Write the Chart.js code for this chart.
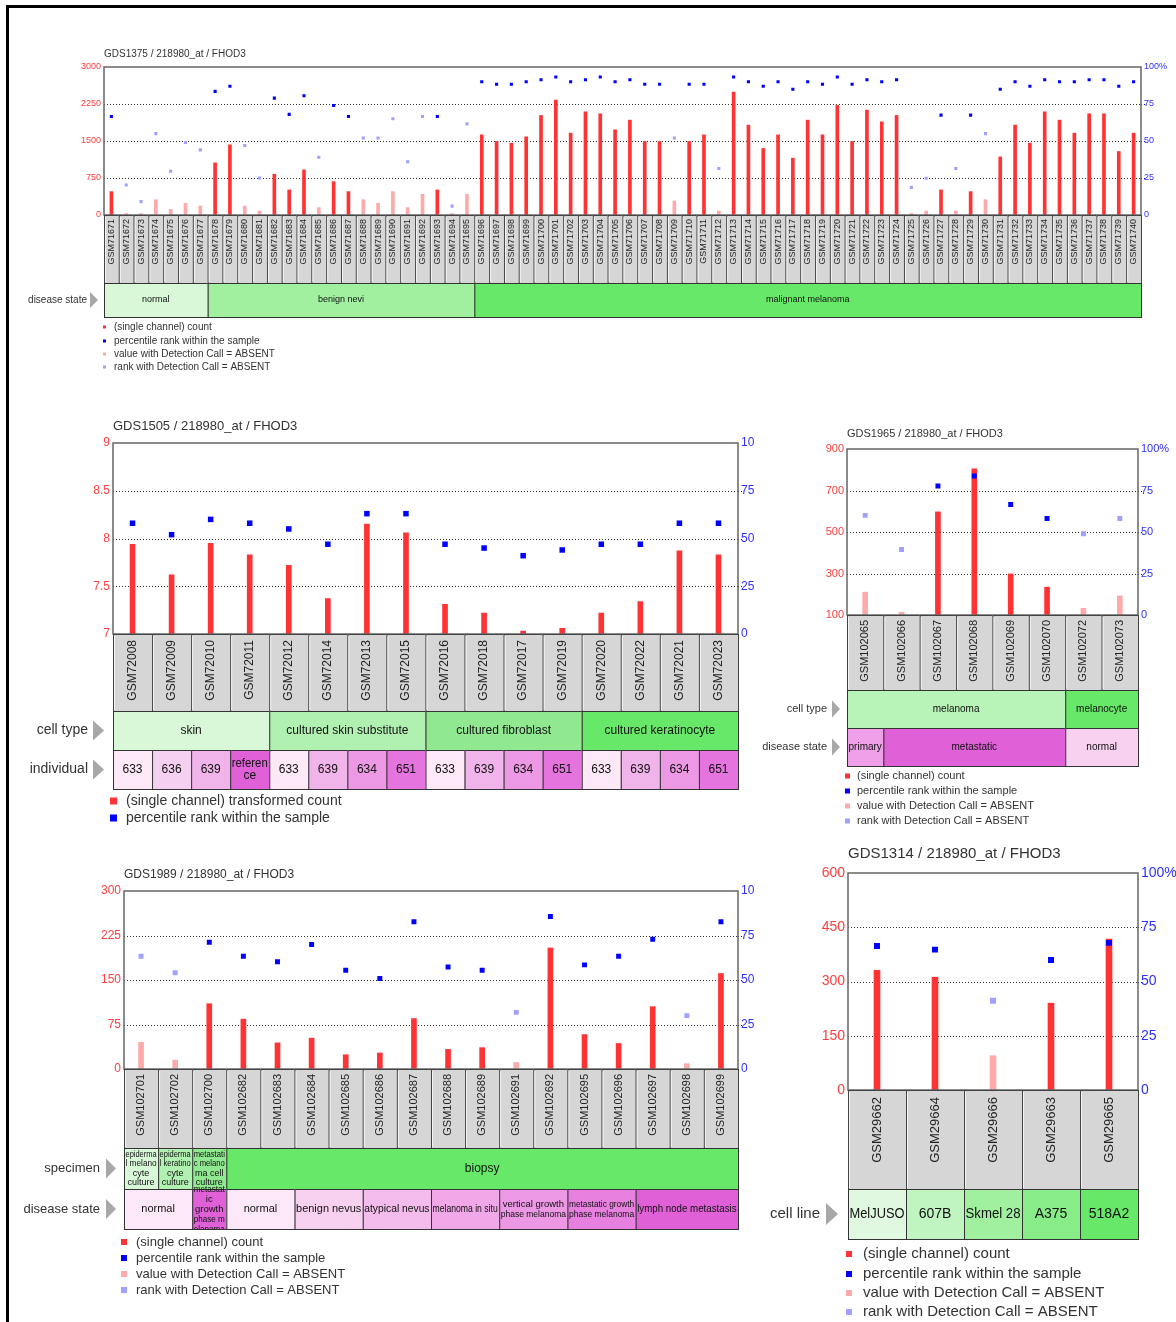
<!DOCTYPE html>
<html>
<head>
<meta charset="utf-8">
<script src="https://cdn.jsdelivr.net/npm/chart.js@4.4.0/dist/chart.umd.min.js"></script>
<style>
body{margin:0;background:#fff;width:1176px;height:1322px;position:relative;overflow:hidden}
.frame{position:absolute;left:6px;top:5px;width:1170px;height:1317px;border-left:3px solid #000;border-top:3px solid #000}
canvas{position:absolute}
</style>
</head>
<body>
<div class="frame"></div>
<script>
// ---- GDS1375 ----
const gds1375Samples = ['GSM71671','GSM71672','GSM71673','GSM71674','GSM71675','GSM71676','GSM71677','GSM71678','GSM71679','GSM71680',
  'GSM71681','GSM71682','GSM71683','GSM71684','GSM71685','GSM71686','GSM71687','GSM71688','GSM71689','GSM71690',
  'GSM71691','GSM71692','GSM71693','GSM71694','GSM71695','GSM71696','GSM71697','GSM71698','GSM71699','GSM71700',
  'GSM71701','GSM71702','GSM71703','GSM71704','GSM71705','GSM71706','GSM71707','GSM71708','GSM71709','GSM71710',
  'GSM71711','GSM71712','GSM71713','GSM71714','GSM71715','GSM71716','GSM71717','GSM71718','GSM71719','GSM71720',
  'GSM71721','GSM71722','GSM71723','GSM71724','GSM71725','GSM71726','GSM71727','GSM71728','GSM71729','GSM71730',
  'GSM71731','GSM71732','GSM71733','GSM71734','GSM71735','GSM71736','GSM71737','GSM71738','GSM71739','GSM71740'];
const gds1375Counts = [474,30,30,311,115,237,183,1056,1422,183,81,826,508,914,149,677,474,311,237,474,149,420,508,30,420,
  1625,1490,1456,1585,2018,2330,1659,2092,2052,1727,1923,1490,1490,284,1490,1625,81,2492,1822,1348,1625,1151,1923,1625,2221,
  1490,2126,1889,2018,30,81,508,81,474,311,1178,1822,1456,2092,1923,1659,2052,2052,1287,1659];
const gds1375Ranks = [66.6,20.3,9,55,29.6,49,44,83.5,87,47,25,79,68,80.6,39,74,66.6,52,52,65,36,66.6,66.6,6,61.6,
  90,88.3,88.3,90,91.4,93.2,90,91.4,93.2,90,91.4,88.3,88.3,52,88.3,88.3,31.4,93.2,90,87,90,85,90,88.3,93.2,
  88.3,91.4,90,91.4,18.7,24.8,67.5,31.4,67.5,55,85,90,87,91.4,90,90,91.4,91.4,87,90];
const gds1375Calls = ['P','A','A','A','A','A','A','P','P','A','A','P','P','P','A','P','P','A','A','A','A','A','P','A','A',
  'P','P','P','P','P','P','P','P','P','P','P','P','P','A','P','P','A','P','P','P','P','P','P','P','P',
  'P','P','P','P','A','A','P','A','P','A','P','P','P','P','P','P','P','P','P','P'];
const gds1375Disease = ['normal','benign nevi','malignant melanoma'];
const gds1375DiseaseSpan = [7,18,45];
const gds1375YTicks = [0,750,1500,2250,3000];

// ---- GDS1505 ----
const gds1505Samples = ['GSM72008','GSM72009','GSM72010','GSM72011','GSM72012','GSM72014','GSM72013','GSM72015',
  'GSM72016','GSM72018','GSM72017','GSM72019','GSM72020','GSM72022','GSM72021','GSM72023'];
const gds1505Values = [7.94,7.62,7.95,7.83,7.72,7.37,8.15,8.06,7.31,7.22,7.03,7.06,7.22,7.34,7.87,7.83];
const gds1505Ranks = [58,52,60,58,55,47,63,63,47,45,41,44,47,47,58,58];
const gds1505Calls = ['P','P','P','P','P','P','P','P','P','P','P','P','P','P','P','P'];
const gds1505CellType = ['skin','cultured skin substitute','cultured fibroblast','cultured keratinocyte'];
const gds1505CellTypeSpan = [4,4,4,4];
const gds1505Individual = ['633','636','639','reference','633','639','634','651','633','639','634','651','633','639','634','651'];
const gds1505YTicks = [7,7.5,8,8.5,9];

// ---- GDS1965 ----
const gds1965Samples = ['GSM102065','GSM102066','GSM102067','GSM102068','GSM102069','GSM102070','GSM102072','GSM102073'];
const gds1965Counts = [210,113,597,805,298,234,132,192];
const gds1965Ranks = [60,39.4,77.7,83.7,66.6,58.1,49,58.1];
const gds1965Calls = ['A','A','P','P','P','P','A','A'];
const gds1965CellType = ['melanoma','melanocyte'];
const gds1965CellTypeSpan = [6,2];
const gds1965Disease = ['primary','metastatic','normal'];
const gds1965DiseaseSpan = [1,5,2];
const gds1965YTicks = [100,300,500,700,900];

// ---- GDS1989 ----
const gds1989Samples = ['GSM102701','GSM102702','GSM102700','GSM102682','GSM102683','GSM102684','GSM102685','GSM102686','GSM102687',
  'GSM102688','GSM102689','GSM102691','GSM102692','GSM102695','GSM102696','GSM102697','GSM102698','GSM102699'];
const gds1989Counts = [45,15,110,84,44,52,24,27,85,33,36,11,204,58,43,105,9,161];
const gds1989Ranks = [63.3,54.1,71.2,63.3,60.3,69.9,55.5,50.8,82.7,57.3,55.5,31.8,85.7,58.5,63.3,72.9,30,82.7];
const gds1989Calls = ['A','A','P','P','P','P','P','P','P','P','P','A','P','P','P','P','A','P'];
const gds1989Specimen = ['epidermal melanocyte culture','epidermal keratinocyte culture','metastatic melanoma cell culture','biopsy'];
const gds1989SpecimenSpan = [1,1,1,15];
const gds1989Disease = ['normal','metastatic growth phase melanoma','normal','benign nevus','atypical nevus','melanoma in situ',
  'vertical growth phase melanoma','metastatic growth phase melanoma','lymph node metastasis'];
const gds1989DiseaseSpan = [2,1,2,2,2,2,2,2,3];
const gds1989YTicks = [0,75,150,225,300];

// ---- GDS1314 ----
const gds1314Samples = ['GSM29662','GSM29664','GSM29666','GSM29663','GSM29665'];
const gds1314Counts = [331,312,95,240,417];
const gds1314Ranks = [66.4,64.7,41.1,59.9,67.8];
const gds1314Calls = ['P','P','A','P','P'];
const gds1314CellLine = ['MelJUSO','607B','Skmel 28','A375','518A2'];
const gds1314CellLineSpan = [1,1,1,1,1];
const gds1314YTicks = [0,150,300,450,600];

const rankTicks = [0,25,50,75,100];
const legend4 = ['(single channel) count','percentile rank within the sample','value with Detection Call = ABSENT','rank with Detection Call = ABSENT'];

const RED = '#ff3333', PINK = '#ffaaaa', BLUE = '#0000ff', LBLUE = '#a0a0ff';
const F = s => s + 'px "Liberation Sans", Arial, sans-serif';

function wrapWords(ctx, text, maxW) {
  const lines = [];
  let line = '';
  const fits = s => ctx.measureText(s).width <= maxW;
  text.split(' ').forEach(word => {
    const cand = line ? line + ' ' + word : word;
    if (fits(cand)) { line = cand; return; }
    if (fits(word)) { if (line) lines.push(line); line = word; return; }
    let cur = line ? line + ' ' : '';
    for (const ch of word) {
      if (cur && !fits(cur + ch)) { lines.push(cur.trimEnd()); cur = ''; }
      cur += ch;
    }
    line = cur;
  });
  if (line) lines.push(line);
  return lines;
}

function squeezeText(ctx, text, x, y, maxW, align) {
  const tw = ctx.measureText(text).width;
  const sx = tw > maxW ? maxW / tw : 1;
  ctx.save();
  ctx.translate(x, y);
  ctx.scale(sx, 1);
  ctx.textAlign = align;
  ctx.fillText(text, 0, 0);
  ctx.restore();
}

function cellText(ctx, text, x0, y0, w, h, size, wrapSize) {
  ctx.font = F(size);
  const maxW = w - 3;
  const tw = ctx.measureText(text).width;
  const cx = x0 + w / 2;
  if (tw * 0.72 <= maxW) {
    squeezeText(ctx, text, cx, y0 + h / 2, maxW, 'center');
    return;
  }
  ctx.font = F(wrapSize);
  const lines = wrapWords(ctx, text, maxW / 0.82);
  const lh = wrapSize * 1.05;
  const start = y0 + h / 2 - (lines.length - 1) * lh / 2;
  ctx.save();
  ctx.beginPath();
  ctx.rect(x0, y0 - 12, w, h + 12);
  ctx.clip();
  lines.forEach((ln, i) => squeezeText(ctx, ln, cx, start + i * lh, maxW, 'center'));
  ctx.restore();
}

function panelPlugin(p) {
  return {
    id: 'panel' + p.title.slice(0, 7),
    beforeDatasetsDraw(chart) {
      const ctx = chart.ctx, a = chart.chartArea, y = chart.scales.y;
      ctx.save();
      ctx.lineWidth = 1;
      ctx.setLineDash([1, 2]);
      p.yTicks.forEach((v, i) => {
        if (i === 0 || i === p.yTicks.length - 1) return;
        const py = Math.round(y.getPixelForValue(v)) + 0.5;
        ctx.strokeStyle = '#333';
        ctx.beginPath(); ctx.moveTo(a.left, py); ctx.lineTo(a.right, py); ctx.stroke();
        ctx.strokeStyle = BLUE;
        ctx.beginPath(); ctx.moveTo(a.right, py); ctx.lineTo(a.right + 4, py); ctx.stroke();
      });
      ctx.restore();
    },
    afterDraw(chart) {
      const ctx = chart.ctx, a = chart.chartArea, ox = p.left, oy = p.top;
      const n = p.samples.length, w = (a.right - a.left) / n;
      ctx.save();
      ctx.textBaseline = 'middle';
      ctx.fillStyle = '#333';
      ctx.font = F(p.titleSize);
      ctx.textAlign = 'left';
      ctx.fillText(p.title, a.left, p.titleY - oy);

      ctx.strokeStyle = '#666';
      ctx.lineWidth = 1.5;
      ctx.strokeRect(a.left, a.top, a.right - a.left, a.bottom - a.top);

      // sample boxes
      const bb = p.boxBottom - oy;
      ctx.lineWidth = 1;
      p.samples.forEach((s, i) => {
        const x0 = a.left + i * w;
        ctx.fillStyle = '#d6d6d6';
        ctx.fillRect(x0, a.bottom, w, bb - a.bottom);
        ctx.strokeStyle = '#444';
        ctx.strokeRect(x0 + 0.5, a.bottom + 0.5, w, bb - a.bottom);
        ctx.strokeStyle = '#f4f4f4';
        ctx.beginPath(); ctx.moveTo(x0 + 1.5, a.bottom + 2); ctx.lineTo(x0 + 1.5, bb - 1); ctx.stroke();
        ctx.save();
        ctx.translate(x0 + w / 2, a.bottom + p.labelPad);
        ctx.rotate(-Math.PI / 2);
        ctx.fillStyle = '#222';
        ctx.font = F(p.labelSize);
        ctx.textAlign = 'right';
        ctx.fillText(s, 0, 0);
        ctx.restore();
      });

      // annotation rows
      let top = bb;
      p.rows.forEach(row => {
        const bot = row.bottom - oy;
        let idx = 0;
        row.labels.forEach((lab, k) => {
          const span = row.spans[k];
          const x0 = a.left + idx * w, cw = span * w;
          ctx.fillStyle = Array.isArray(row.colors) ? row.colors[k] : row.colors[lab];
          ctx.fillRect(x0, top, cw, bot - top);
          ctx.strokeStyle = '#333';
          ctx.strokeRect(x0 + 0.5, top + 0.5, cw, bot - top);
          idx += span;
        });
        idx = 0;
        row.labels.forEach((lab, k) => {
          const span = row.spans[k];
          ctx.fillStyle = '#111';
          cellText(ctx, lab, a.left + idx * w, top, span * w, bot - top, row.size, row.wrapSize || row.size);
          idx += span;
        });
        const yc = (top + bot) / 2;
        ctx.fillStyle = '#333';
        ctx.font = F(p.rowSize);
        ctx.textAlign = 'right';
        ctx.fillText(row.name, p.rowRight - ox, yc);
        const ax = p.arrowX - ox;
        ctx.fillStyle = '#a8a8a8';
        ctx.beginPath();
        ctx.moveTo(ax, yc - p.arrowH / 2);
        ctx.lineTo(ax + p.arrowW, yc);
        ctx.lineTo(ax, yc + p.arrowH / 2);
        ctx.closePath();
        ctx.fill();
        top = bot;
      });

      // legend
      const cols = [RED, BLUE, PINK, LBLUE];
      ctx.font = F(p.legendSize);
      ctx.textAlign = 'left';
      p.legend.forEach((txt, i) => {
        const ly = p.legendY[i] - oy;
        const m = p.legendMark;
        ctx.fillStyle = cols[i];
        ctx.fillRect(p.legendX - ox, ly - m / 2, m, m);
        ctx.fillStyle = '#333';
        ctx.fillText(txt, p.legendTextX - ox, ly);
      });
      ctx.restore();
    }
  };
}

function makePanel(p) {
  const cv = document.createElement('canvas');
  cv.width = p.width;
  cv.height = p.height;
  cv.style.left = p.left + 'px';
  cv.style.top = p.top + 'px';
  document.body.appendChild(cv);
  const a = p.area;
  new Chart(cv, {
    type: 'bar',
    data: {
      labels: p.samples,
      datasets: [
        {
          type: 'line',
          data: p.ranks,
          yAxisID: 'y2',
          showLine: false,
          pointStyle: 'rect',
          pointRadius: p.pointR,
          pointHoverRadius: p.pointR,
          pointBorderWidth: 0,
          pointBackgroundColor: p.calls.map(c => c === 'A' ? LBLUE : BLUE),
          order: 1
        },
        {
          type: 'bar',
          data: p.values,
          yAxisID: 'y',
          backgroundColor: p.calls.map(c => c === 'A' ? PINK : RED),
          barThickness: p.barW,
          borderWidth: 0,
          order: 2
        }
      ]
    },
    options: {
      responsive: false,
      animation: false,
      events: [],
      layout: { padding: { top: a.t - p.top, bottom: p.top + p.height - a.b, left: 0, right: 0 } },
      plugins: { legend: { display: false }, tooltip: { enabled: false } },
      scales: {
        x: { display: false, offset: true },
        y: {
          position: 'left',
          min: p.yTicks[0],
          max: p.yTicks[p.yTicks.length - 1],
          afterBuildTicks: s => { s.ticks = p.yTicks.map(v => ({ value: v })); },
          ticks: { color: '#ff4040', font: { size: p.tickSize, family: '"Liberation Sans", Arial' }, padding: 3, callback: v => String(v) },
          grid: { display: false, drawTicks: false },
          border: { display: false },
          afterFit: s => { s.width = a.l - p.left; }
        },
        y2: {
          position: 'right',
          min: 0,
          max: 100,
          afterBuildTicks: s => { s.ticks = rankTicks.map(v => ({ value: v })); },
          ticks: { color: '#3030ff', font: { size: p.tickSize, family: '"Liberation Sans", Arial' }, padding: 3, callback: v => v === 100 ? p.topRight : String(v) },
          grid: { display: false, drawTicks: false },
          border: { display: false },
          afterFit: s => { s.width = p.left + p.width - a.r; }
        }
      }
    },
    plugins: [panelPlugin(p)]
  });
}

makePanel({
  left: 10, top: 40, width: 1166, height: 340,
  area: { l: 104, t: 67, r: 1141, b: 215 },
  title: 'GDS1375 / 218980_at / FHOD3', titleY: 54, titleSize: 10,
  samples: gds1375Samples, values: gds1375Counts, ranks: gds1375Ranks, calls: gds1375Calls,
  yTicks: gds1375YTicks, topRight: '100%', tickSize: 9,
  barW: 3, pointR: 2.2,
  boxBottom: 283, labelSize: 9, labelPad: 4,
  rows: [
    { name: 'disease state', labels: gds1375Disease, spans: gds1375DiseaseSpan, bottom: 317, size: 9,
      colors: ['#d8f8d8', '#a0f0a0', '#68e868'] }
  ],
  rowSize: 10, rowRight: 87, arrowX: 90, arrowW: 8, arrowH: 16,
  legend: legend4, legendY: [327, 341, 354, 367], legendX: 103, legendTextX: 114, legendSize: 10, legendMark: 3
});

makePanel({
  left: 10, top: 410, width: 744, height: 420,
  area: { l: 113, t: 443, r: 738, b: 634 },
  title: 'GDS1505 / 218980_at / FHOD3', titleY: 426, titleSize: 13,
  samples: gds1505Samples, values: gds1505Values, ranks: gds1505Ranks, calls: gds1505Calls,
  yTicks: gds1505YTicks, topRight: '100', tickSize: 12,
  barW: 5, pointR: 3.9,
  boxBottom: 711, labelSize: 12, labelPad: 6,
  rows: [
    { name: 'cell type', labels: gds1505CellType, spans: gds1505CellTypeSpan, bottom: 750, size: 12,
      colors: ['#d8f8d8', '#b0f0b0', '#90e890', '#68e868'] },
    { name: 'individual', labels: gds1505Individual, spans: gds1505Individual.map(() => 1), bottom: 789, size: 12,
      colors: { '633': '#fde8f8', '636': '#f6d0f0', '639': '#f0b4ea', '634': '#ec98e4', '651': '#e674de', 'reference': '#e060d8' } }
  ],
  rowSize: 14, rowRight: 88, arrowX: 93, arrowW: 11, arrowH: 20,
  legend: ['(single channel) transformed count', 'percentile rank within the sample'],
  legendY: [801, 818], legendX: 110, legendTextX: 126, legendSize: 14, legendMark: 7
});

makePanel({
  left: 760, top: 420, width: 416, height: 410,
  area: { l: 847, t: 449, r: 1138, b: 615 },
  title: 'GDS1965 / 218980_at / FHOD3', titleY: 434, titleSize: 11,
  samples: gds1965Samples, values: gds1965Counts, ranks: gds1965Ranks, calls: gds1965Calls,
  yTicks: gds1965YTicks, topRight: '100%', tickSize: 11,
  barW: 5, pointR: 3.5,
  boxBottom: 690, labelSize: 11, labelPad: 5,
  rows: [
    { name: 'cell type', labels: gds1965CellType, spans: gds1965CellTypeSpan, bottom: 728, size: 10,
      colors: ['#b8f4b8', '#68e868'] },
    { name: 'disease state', labels: gds1965Disease, spans: gds1965DiseaseSpan, bottom: 766, size: 10,
      colors: ['#f0a0e8', '#e060d8', '#f8d0f0'] }
  ],
  rowSize: 11, rowRight: 827, arrowX: 832, arrowW: 8, arrowH: 17,
  legend: legend4, legendY: [776, 791, 806, 821], legendX: 845, legendTextX: 857, legendSize: 11, legendMark: 5
});

makePanel({
  left: 10, top: 860, width: 744, height: 445,
  area: { l: 124, t: 891, r: 738, b: 1069 },
  title: 'GDS1989 / 218980_at / FHOD3', titleY: 875, titleSize: 12,
  samples: gds1989Samples, values: gds1989Counts, ranks: gds1989Ranks, calls: gds1989Calls,
  yTicks: gds1989YTicks, topRight: '100', tickSize: 12,
  barW: 5, pointR: 3.5,
  boxBottom: 1148, labelSize: 11, labelPad: 5,
  rows: [
    { name: 'specimen', labels: gds1989Specimen, spans: gds1989SpecimenSpan, bottom: 1189, size: 12, wrapSize: 9,
      colors: ['#d8f8d8', '#b0f0b0', '#90e890', '#68e868'] },
    { name: 'disease state', labels: gds1989Disease, spans: gds1989DiseaseSpan, bottom: 1229, size: 11, wrapSize: 9.5,
      colors: ['#fce8f8', '#e060d8', '#fce8f8', '#f8d0f0', '#f4bcec', '#f0a8e8', '#ec98e4', '#e880e0', '#e060d8'] }
  ],
  rowSize: 13, rowRight: 100, arrowX: 106, arrowW: 10, arrowH: 20,
  legend: legend4, legendY: [1242, 1258, 1274, 1290], legendX: 121, legendTextX: 136, legendSize: 13, legendMark: 6
});

makePanel({
  left: 760, top: 840, width: 416, height: 482,
  area: { l: 848, t: 873, r: 1138, b: 1090 },
  title: 'GDS1314 / 218980_at / FHOD3', titleY: 854, titleSize: 15,
  samples: gds1314Samples, values: gds1314Counts, ranks: gds1314Ranks, calls: gds1314Calls,
  yTicks: gds1314YTicks, topRight: '100%', tickSize: 14,
  barW: 6, pointR: 4.2,
  boxBottom: 1189, labelSize: 13, labelPad: 7,
  rows: [
    { name: 'cell line', labels: gds1314CellLine, spans: gds1314CellLineSpan, bottom: 1239, size: 14,
      colors: ['#e0f8e0', '#c0f4c0', '#a0f0a0', '#88ec88', '#68e868'] }
  ],
  rowSize: 15, rowRight: 820, arrowX: 826, arrowW: 12, arrowH: 22,
  legend: legend4, legendY: [1254, 1274, 1293, 1312], legendX: 846, legendTextX: 863, legendSize: 15, legendMark: 6
});
</script>
</body>
</html>
